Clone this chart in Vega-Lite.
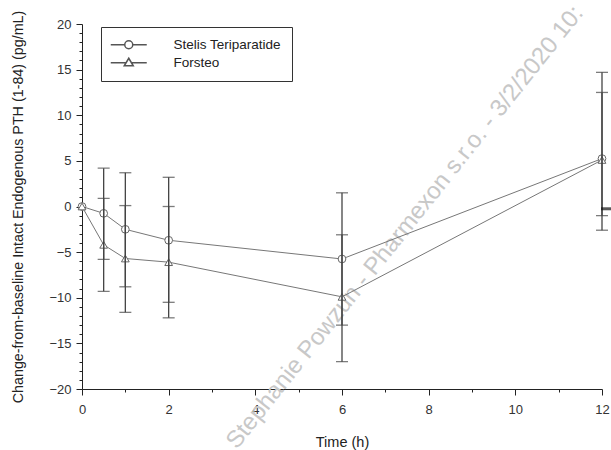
{
  "$schema": "https://vega.github.io/schema/vega-lite/v6.json",
  "width": 520,
  "height": 365,
  "autosize": {"type": "none"},
  "padding": {"left": 82, "top": 24, "right": 9, "bottom": 61},
  "background": "white",
  "config": {
    "view": {"stroke": null},
    "font": "Liberation Sans",
    "axis": {"grid": false, "domainColor": "#222", "tickColor": "#222", "labelColor": "#333", "titleColor": "#222", "titleFontWeight": "normal", "labelFont": "Liberation Sans", "titleFont": "Liberation Sans"}
  },
  "datasets": {
    "pk": [
      {"series": "Stelis Teriparatide", "t": 0, "mean": 0, "lo": null, "hi": null},
      {"series": "Stelis Teriparatide", "t": 0.5, "mean": -0.75, "lo": -5.8, "hi": 4.2},
      {"series": "Stelis Teriparatide", "t": 1, "mean": -2.5, "lo": -8.8, "hi": 3.7},
      {"series": "Stelis Teriparatide", "t": 2, "mean": -3.7, "lo": -10.5, "hi": 3.2},
      {"series": "Stelis Teriparatide", "t": 6, "mean": -5.75, "lo": -13.0, "hi": 1.5},
      {"series": "Stelis Teriparatide", "t": 12, "mean": 5.25, "lo": -2.6, "hi": 14.7},
      {"series": "Forsteo", "t": 0, "mean": 0, "lo": null, "hi": null},
      {"series": "Forsteo", "t": 0.5, "mean": -4.2, "lo": -9.3, "hi": 0.9},
      {"series": "Forsteo", "t": 1, "mean": -5.7, "lo": -11.6, "hi": 0.1},
      {"series": "Forsteo", "t": 2, "mean": -6.1, "lo": -12.2, "hi": 0.0},
      {"series": "Forsteo", "t": 6, "mean": -9.9, "lo": -17.0, "hi": -3.1},
      {"series": "Forsteo", "t": 12, "mean": 5.1, "lo": -1.0, "hi": 12.5}
    ],
    "marker": [{"t": 12, "v": -0.25}],
    "watermark": [{"t": 3.45, "v": -26.2, "text": "Stephanie Powzun - Pharmexon s.r.o. - 3/2/2020 10:"}]
  },
  "layer": [
    {
      "data": {"name": "watermark"},
      "mark": {"type": "text", "angle": -51.5, "fontSize": 24, "color": "#c8c8c8", "align": "left", "baseline": "middle", "font": "Liberation Sans"},
      "encoding": {
        "x": {"field": "t", "type": "quantitative", "scale": {"domain": [0, 12], "nice": false, "zero": false},
          "axis": {"title": "Time (h)", "values": [0,0.5,1,1.5,2,2.5,3,3.5,4,4.5,5,5.5,6,6.5,7,7.5,8,8.5,9,9.5,10,10.5,11,11.5,12], "tickCount": 100, "format": "d",
            "labelExpr": "datum.value % 2 === 0 ? datum.label : ''",
            "tickSize": {"condition": {"test": "datum.value % 2 === 0", "value": 6}, "value": 3},
            "labelFontSize": 13, "labelPadding": 8, "titleFontSize": 14.5, "titleY": 53, "titleBaseline": "middle", "labelFlush": false, "labelOverlap": false}},
        "y": {"field": "v", "type": "quantitative", "scale": {"domain": [-20, 20], "nice": false, "zero": false},
          "axis": {"title": "Change-from-baseline Intact Endogenous PTH (1-84) (pg/mL)", "values": [-20,-19,-18,-17,-16,-15,-14,-13,-12,-11,-10,-9,-8,-7,-6,-5,-4,-3,-2,-1,0,1,2,3,4,5,6,7,8,9,10,11,12,13,14,15,16,17,18,19,20], "tickCount": 100, "format": "d",
            "labelExpr": "datum.value % 5 === 0 ? datum.label : ''",
            "tickSize": {"condition": {"test": "datum.value % 5 === 0", "value": 6}, "value": 3},
            "labelFontSize": 13, "labelPadding": 5, "titleFontSize": 14.3, "titleX": -64, "titleBaseline": "middle", "labelOverlap": false, "labelFlush": false}},
        "text": {"field": "text"}
      }
    },
    {
      "data": {"name": "pk"},
      "mark": {"type": "line", "color": "#777", "strokeWidth": 1},
      "encoding": {
        "x": {"field": "t", "type": "quantitative"},
        "y": {"field": "mean", "type": "quantitative"},
        "detail": {"field": "series"}
      }
    },
    {
      "data": {"name": "pk"},
      "transform": [{"filter": "false"}],
      "mark": {"type": "point", "filled": false, "stroke": "#555", "strokeWidth": 1, "opacity": 1, "size": 100},
      "encoding": {
        "x": {"field": "t", "type": "quantitative"},
        "y": {"field": "mean", "type": "quantitative"},
        "shape": {"field": "series", "type": "nominal",
          "scale": {"domain": ["Stelis Teriparatide", "Forsteo"], "range": ["M-1.6,0H1.2M2.8,0H5.6M2.8,0A0.8,0.8,0,1,1,1.2,0A0.8,0.8,0,1,1,2.8,0Z", "M-1.6,0H1.46M2.54,0H5.6M2,-0.9L2.9,0.6L1.1,0.6Z"]},
          "legend": {"title": null, "orient": "none", "legendX": 19, "legendY": 3, "strokeColor": "#333", "fillColor": "white", "padding": 11,
            "labelFontSize": 13.5, "labelColor": "#222", "labelFont": "Liberation Sans", "symbolSize": 100, "labelOffset": 48, "rowPadding": 3}}
      }
    },
    {
      "data": {"name": "pk"},
      "transform": [{"filter": "datum.series === 'Stelis Teriparatide'"}],
      "mark": {"type": "point", "shape": "circle", "filled": true, "fill": "white", "stroke": "#666", "strokeWidth": 1, "size": 60, "opacity": 1},
      "encoding": {
        "x": {"field": "t", "type": "quantitative"},
        "y": {"field": "mean", "type": "quantitative"}
      }
    },
    {
      "data": {"name": "pk"},
      "transform": [{"filter": "datum.series === 'Forsteo'"}],
      "mark": {"type": "point", "shape": "triangle-up", "filled": true, "fill": "white", "stroke": "#666", "strokeWidth": 1, "size": 60, "opacity": 1},
      "encoding": {
        "x": {"field": "t", "type": "quantitative"},
        "y": {"field": "mean", "type": "quantitative"}
      }
    },
    {
      "data": {"name": "pk"},
      "transform": [{"filter": "datum.lo != null"}],
      "mark": {"type": "rule", "color": "#444", "strokeWidth": 1.3},
      "encoding": {
        "x": {"field": "t", "type": "quantitative"},
        "y": {"field": "lo", "type": "quantitative"},
        "y2": {"field": "hi"}
      }
    },
    {
      "data": {"name": "pk"},
      "transform": [{"filter": "datum.lo != null"}],
      "mark": {"type": "tick", "orient": "horizontal", "color": "#444", "size": 12, "thickness": 1.3},
      "encoding": {
        "x": {"field": "t", "type": "quantitative"},
        "y": {"field": "lo", "type": "quantitative"}
      }
    },
    {
      "data": {"name": "pk"},
      "transform": [{"filter": "datum.lo != null"}],
      "mark": {"type": "tick", "orient": "horizontal", "color": "#444", "size": 12, "thickness": 1.3},
      "encoding": {
        "x": {"field": "t", "type": "quantitative"},
        "y": {"field": "hi", "type": "quantitative"}
      }
    },
    {
      "data": {"name": "marker"},
      "mark": {"type": "tick", "orient": "horizontal", "color": "#111", "size": 12, "thickness": 3, "xOffset": 5},
      "encoding": {
        "x": {"field": "t", "type": "quantitative"},
        "y": {"field": "v", "type": "quantitative"}
      }
    }
  ]
}
